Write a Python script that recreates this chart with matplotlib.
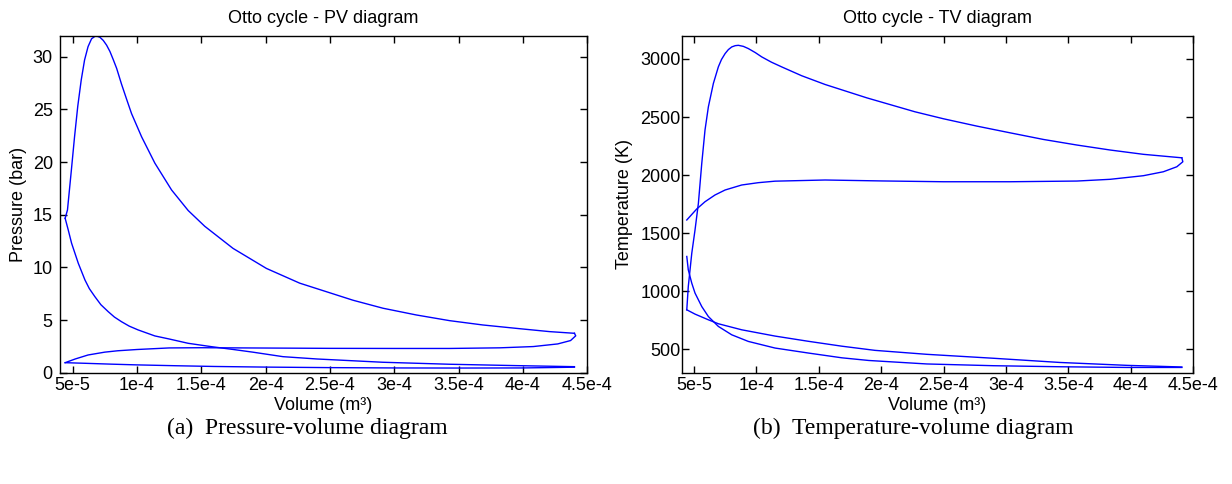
import matplotlib
matplotlib.use("Agg")
import matplotlib.pyplot as plt

plt.rcParams['font.family'] = ['Liberation Sans', 'DejaVu Sans']

# ---- Pressure-volume data (V in m^3, P in bar) ----
intake_v = [4.42e-5, 6.0e-5, 8.0e-5, 1.0e-4, 1.3e-4, 1.6e-4, 2.0e-4, 2.5e-4,
            3.0e-4, 3.5e-4, 4.0e-4, 4.4e-4]
intake_p = [0.95, 0.89, 0.81, 0.74, 0.66, 0.59, 0.53, 0.48, 0.45, 0.44, 0.45, 0.52]

comp_v = [4.4e-4, 3.95e-4, 3.43e-4, 2.91e-4, 2.4e-4, 2.135e-4, 1.9e-4, 1.75e-4,
          1.579e-4, 1.398e-4, 1.25e-4, 1.139e-4, 1.009e-4, 9.4e-5, 8.8e-5, 8.25e-5,
          7.77e-5, 7.2e-5, 6.73e-5, 6.3e-5, 5.96e-5, 5.44e-5, 4.92e-5, 4.66e-5, 4.42e-5]
comp_p = [0.57, 0.67, 0.80, 0.99, 1.30, 1.52, 1.95, 2.2, 2.47, 2.79, 3.2, 3.49, 4.06,
          4.42, 4.84, 5.28, 5.79, 6.45, 7.22, 7.98, 8.80, 10.39, 12.29, 13.55, 14.66]

expan_v = [4.42e-5, 4.6e-5, 4.9e-5, 5.15e-5, 5.4e-5, 5.67e-5, 5.93e-5, 6.2e-5,
           6.47e-5, 6.8e-5, 7.12e-5, 7.38e-5, 7.64e-5, 7.9e-5, 8.15e-5, 8.42e-5,
           8.8e-5, 9.2e-5, 9.58e-5, 1.036e-4, 1.139e-4, 1.269e-4, 1.398e-4, 1.527e-4,
           1.747e-4, 2.006e-4, 2.265e-4, 2.679e-4, 2.912e-4, 3.171e-4, 3.43e-4,
           3.688e-4, 3.947e-4, 4.206e-4, 4.40e-4]
expan_p = [14.66, 15.45, 19.2, 22.4, 25.3, 27.8, 29.7, 30.96, 31.7, 32.0, 31.85,
           31.55, 31.1, 30.5, 29.75, 28.9, 27.4, 25.95, 24.6, 22.4, 19.9, 17.35,
           15.4, 13.9, 11.8, 9.9, 8.5, 6.88, 6.12, 5.48, 4.94, 4.53, 4.21, 3.90, 3.74]

exh_v = [4.40e-4, 4.41e-4, 4.37e-4, 4.27e-4, 4.08e-4, 3.82e-4, 3.43e-4, 3.0e-4,
         2.5e-4, 2.0e-4, 1.5e-4, 1.25e-4, 1.0e-4, 8.5e-5, 7.5e-5, 6.2e-5, 5.2e-5, 4.42e-5]
exh_p = [3.74, 3.5, 3.05, 2.73, 2.48, 2.36, 2.30, 2.30, 2.31, 2.34, 2.37, 2.35,
         2.2, 2.08, 1.95, 1.68, 1.30, 0.95]

# ---- Temperature-volume data (V in m^3, T in K) ----
tv_intake_v = [4.42e-5, 4.54e-5, 4.82e-5, 5.08e-5, 5.62e-5, 6.15e-5, 6.95e-5,
               8.02e-5, 9.35e-5, 1.149e-4, 1.416e-4, 1.684e-4, 1.9e-4, 2.365e-4,
               2.898e-4, 3.433e-4, 3.967e-4, 4.408e-4]
tv_intake_t = [1300, 1185, 1070, 985, 869, 783, 698, 626, 569, 512, 469, 428, 405,
               375, 360, 351, 345, 345]

tv_comp_v = [4.408e-4, 3.97e-4, 3.43e-4, 2.9e-4, 2.365e-4, 1.95e-4, 1.684e-4,
             1.416e-4, 1.149e-4, 8.82e-5, 6.95e-5, 6.15e-5, 5.08e-5, 4.42e-5]
tv_comp_t = [349, 363, 388, 424, 458, 492, 528, 570, 615, 669, 721, 755, 804, 841]

tv_expan_v = [4.42e-5, 4.54e-5, 4.82e-5, 5.08e-5, 5.35e-5, 5.62e-5, 5.88e-5,
              6.15e-5, 6.55e-5, 6.95e-5, 7.2e-5, 7.49e-5, 7.75e-5, 8.02e-5, 8.3e-5,
              8.55e-5, 8.95e-5, 9.35e-5, 9.9e-5, 1.043e-4, 1.12e-4, 1.203e-4,
              1.363e-4, 1.55e-4, 1.884e-4, 2.27e-4, 2.498e-4, 2.765e-4, 3.032e-4,
              3.299e-4, 3.567e-4, 3.834e-4, 4.1e-4, 4.408e-4]
tv_expan_t = [841, 1041, 1328, 1528, 1758, 2101, 2388, 2588, 2789, 2932, 2995,
              3046, 3080, 3103, 3114, 3117, 3108, 3089, 3055, 3017, 2972, 2931,
              2855, 2780, 2665, 2545, 2485, 2422, 2364, 2307, 2259, 2216, 2179, 2149]

tv_exh_v = [4.408e-4, 4.416e-4, 4.368e-4, 4.26e-4, 4.1e-4, 3.834e-4, 3.567e-4,
            3.032e-4, 2.498e-4, 2.0e-4, 1.55e-4, 1.149e-4, 1.015e-4, 8.82e-5,
            7.49e-5, 6.68e-5, 5.88e-5, 5.22e-5, 4.42e-5]
tv_exh_t = [2149, 2115, 2072, 2029, 1995, 1964, 1949, 1943, 1943, 1950, 1958,
            1948, 1935, 1915, 1872, 1829, 1771, 1709, 1614]

vol_ticks = [5e-5, 1e-4, 1.5e-4, 2e-4, 2.5e-4, 3e-4, 3.5e-4, 4e-4, 4.5e-4]
vol_labels = ['5e-5', '1e-4', '1.5e-4', '2e-4', '2.5e-4', '3e-4', '3.5e-4', '4e-4', '4.5e-4']
p_ticks = [0, 5, 10, 15, 20, 25, 30]
t_ticks = [500, 1000, 1500, 2000, 2500, 3000]

fig = plt.figure(figsize=(12.32, 4.84), dpi=100)
ax1 = fig.add_axes([0.0485, 0.23, 0.4282, 0.6963])
ax2 = fig.add_axes([0.5532, 0.23, 0.4154, 0.6963])


def style(ax):
    ax.tick_params(direction='in', top=True, right=True, length=5, width=1,
                   labelsize=13, pad=5)
    ax.tick_params(axis='x', pad=3)
    for s in ax.spines.values():
        s.set_linewidth(1)
    ax.set_xlim(4e-5, 4.5e-4)
    ax.set_xticks(vol_ticks)
    ax.set_xticklabels(vol_labels)
    ax.set_xlabel('Volume (m\u00b3)', fontsize=13, labelpad=2)


for v, y in [(intake_v, intake_p), (comp_v, comp_p), (expan_v, expan_p), (exh_v, exh_p)]:
    ax1.plot(v, y, color='blue', lw=1)
style(ax1)
ax1.set_ylim(0, 32)
ax1.set_yticks(p_ticks)
ax1.set_ylabel('Pressure (bar)', fontsize=13)
ax1.yaxis.set_label_coords(-0.062, 0.5)
ax1.set_title('Otto cycle - PV diagram', fontsize=13, pad=9)

for v, y in [(tv_intake_v, tv_intake_t), (tv_comp_v, tv_comp_t),
             (tv_expan_v, tv_expan_t), (tv_exh_v, tv_exh_t)]:
    ax2.plot(v, y, color='blue', lw=1)
style(ax2)
ax2.set_ylim(300, 3200)
ax2.set_yticks(t_ticks)
ax2.tick_params(axis='y', pad=0.5)
ax2.set_ylabel('Temperature (K)', fontsize=13)
ax2.yaxis.set_label_coords(-0.095, 0.5)
ax2.set_title('Otto cycle - TV diagram', fontsize=13, pad=9)

fig.text(0.2497, 0.115, '(a)  Pressure-volume diagram', family='Liberation Serif',
         fontsize=17, ha='center', va='center')
fig.text(0.7416, 0.115, '(b)  Temperature-volume diagram', family='Liberation Serif',
         fontsize=17, ha='center', va='center')

fig.savefig('out.png', dpi=100)
